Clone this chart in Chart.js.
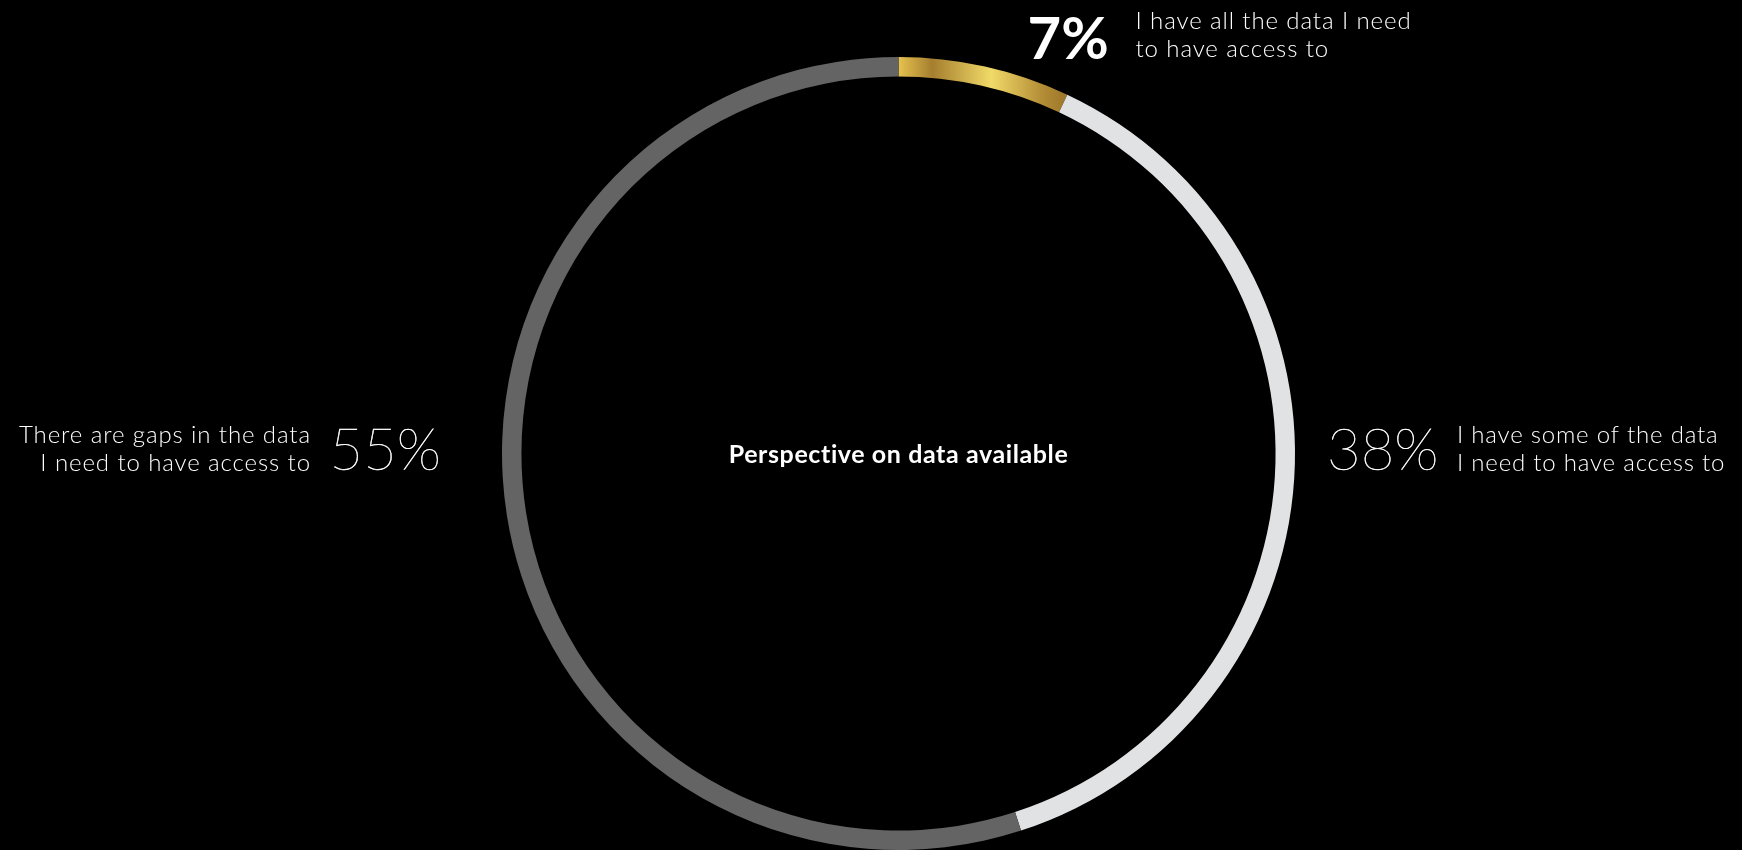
<!DOCTYPE html>
<html>
<head>
<meta charset="utf-8">
<script src="https://cdn.jsdelivr.net/npm/chart.js@4/dist/chart.umd.min.js"></script>
<style>
  html, body { margin: 0; padding: 0; background: #000; }
  #wrap { width: 1742px; height: 850px; position: relative; }
</style>
</head>
<body>
<div id="wrap"><canvas id="myChart"></canvas></div>
<script>
const categories = [
    ['I have all the data I need', 'to have access to'],
    ['I have some of the data', 'I need to have access to'],
    ['There are gaps in the data', 'I need to have access to']
];
const shares = [7, 38, 55];
const sliceColours = [null, '#e1e2e4', '#646464'];
const title = 'Perspective on data available';

const FONT = 'Lato, "Noto Sans", sans-serif';

// gold sheen across the first slice, laid out from the chart area
function goldFill(chart) {
    const area = chart.chartArea;
    if (!area) return '#d4ae45';
    const cx = (area.left + area.right) / 2;
    const r = Math.min(area.right - area.left, area.bottom - area.top) / 2;
    const end = 2 * Math.PI * shares[0] / 100;
    const g = chart.ctx.createLinearGradient(cx, 0, cx + r * Math.sin(end), 0);
    g.addColorStop(0, '#e6c24f');
    g.addColorStop(0.2, '#a57e2f');
    g.addColorStop(0.55, '#f1da68');
    g.addColorStop(0.85, '#b48d36');
    g.addColorStop(1, '#9c762a');
    return g;
}

// hairline percentage, with a light stroke so it stays crisp white
function thinNumber(c, text, x, y) {
    c.letterSpacing = '0px';
    c.font = '100 58px ' + FONT;
    c.fillText(text, x, y);
    c.lineWidth = 0.5;
    c.strokeText(text, x, y);
}

const labelPlugin = {
    id: 'sliceLabels',
    afterDraw(chart) {
        const arc = chart.getDatasetMeta(0).data[0];
        const c = chart.ctx;
        const cx = arc.x, cy = arc.y, r = arc.outerRadius;
        c.save();
        c.fillStyle = '#fff';
        c.strokeStyle = '#fff';
        c.textBaseline = 'alphabetic';

        // centre title
        c.letterSpacing = '0.6px';
        c.font = 'bold 25px ' + FONT;
        c.textAlign = 'center';
        c.fillText(title, cx, cy + 9);

        // top slice
        c.textAlign = 'left';
        c.letterSpacing = '0px';
        c.font = 'bold 58px ' + FONT;
        c.fillText(shares[0] + '%', cx + 129, cy - 395);
        c.letterSpacing = '0.9px';
        c.font = '300 24px ' + FONT;
        c.fillText(categories[0][0], cx + 237, cy - 425);
        c.fillText(categories[0][1], cx + 237, cy - 397);

        // right slice
        thinNumber(c, shares[1] + '%', cx + r + 32, cy + 16);
        c.letterSpacing = '0.8px';
        c.font = '300 24px ' + FONT;
        c.fillText(categories[1][0], cx + r + 162, cy - 11);
        c.fillText(categories[1][1], cx + r + 162, cy + 17);

        // left slice
        c.textAlign = 'right';
        thinNumber(c, shares[2] + '%', cx - r - 61, cy + 16);
        c.letterSpacing = '0.9px';
        c.font = '300 24px ' + FONT;
        c.fillText(categories[2][0], cx - r - 191, cy - 11);
        c.fillText(categories[2][1], cx - r - 191, cy + 17);
        c.restore();
    }
};

const ctx = document.getElementById('myChart').getContext('2d');
const myChart = new Chart(ctx, {
    type: 'doughnut',
    data: {
        labels: categories.map(l => l.join(' ')),
        datasets: [{
            data: shares,
            backgroundColor: (c) => c.dataIndex === 0 ? goldFill(c.chart) : sliceColours[c.dataIndex],
            borderWidth: 0
        }]
    },
    options: {
        responsive: true,
        maintainAspectRatio: false,
        animation: false,
        events: [],
        cutout: '95.1%',
        rotation: 0,
        layout: { padding: { left: 502, right: 447, top: 57, bottom: 0 } },
        plugins: {
            legend: { display: false },
            tooltip: { enabled: false }
        }
    },
    plugins: [labelPlugin]
});
</script>
</body>
</html>
